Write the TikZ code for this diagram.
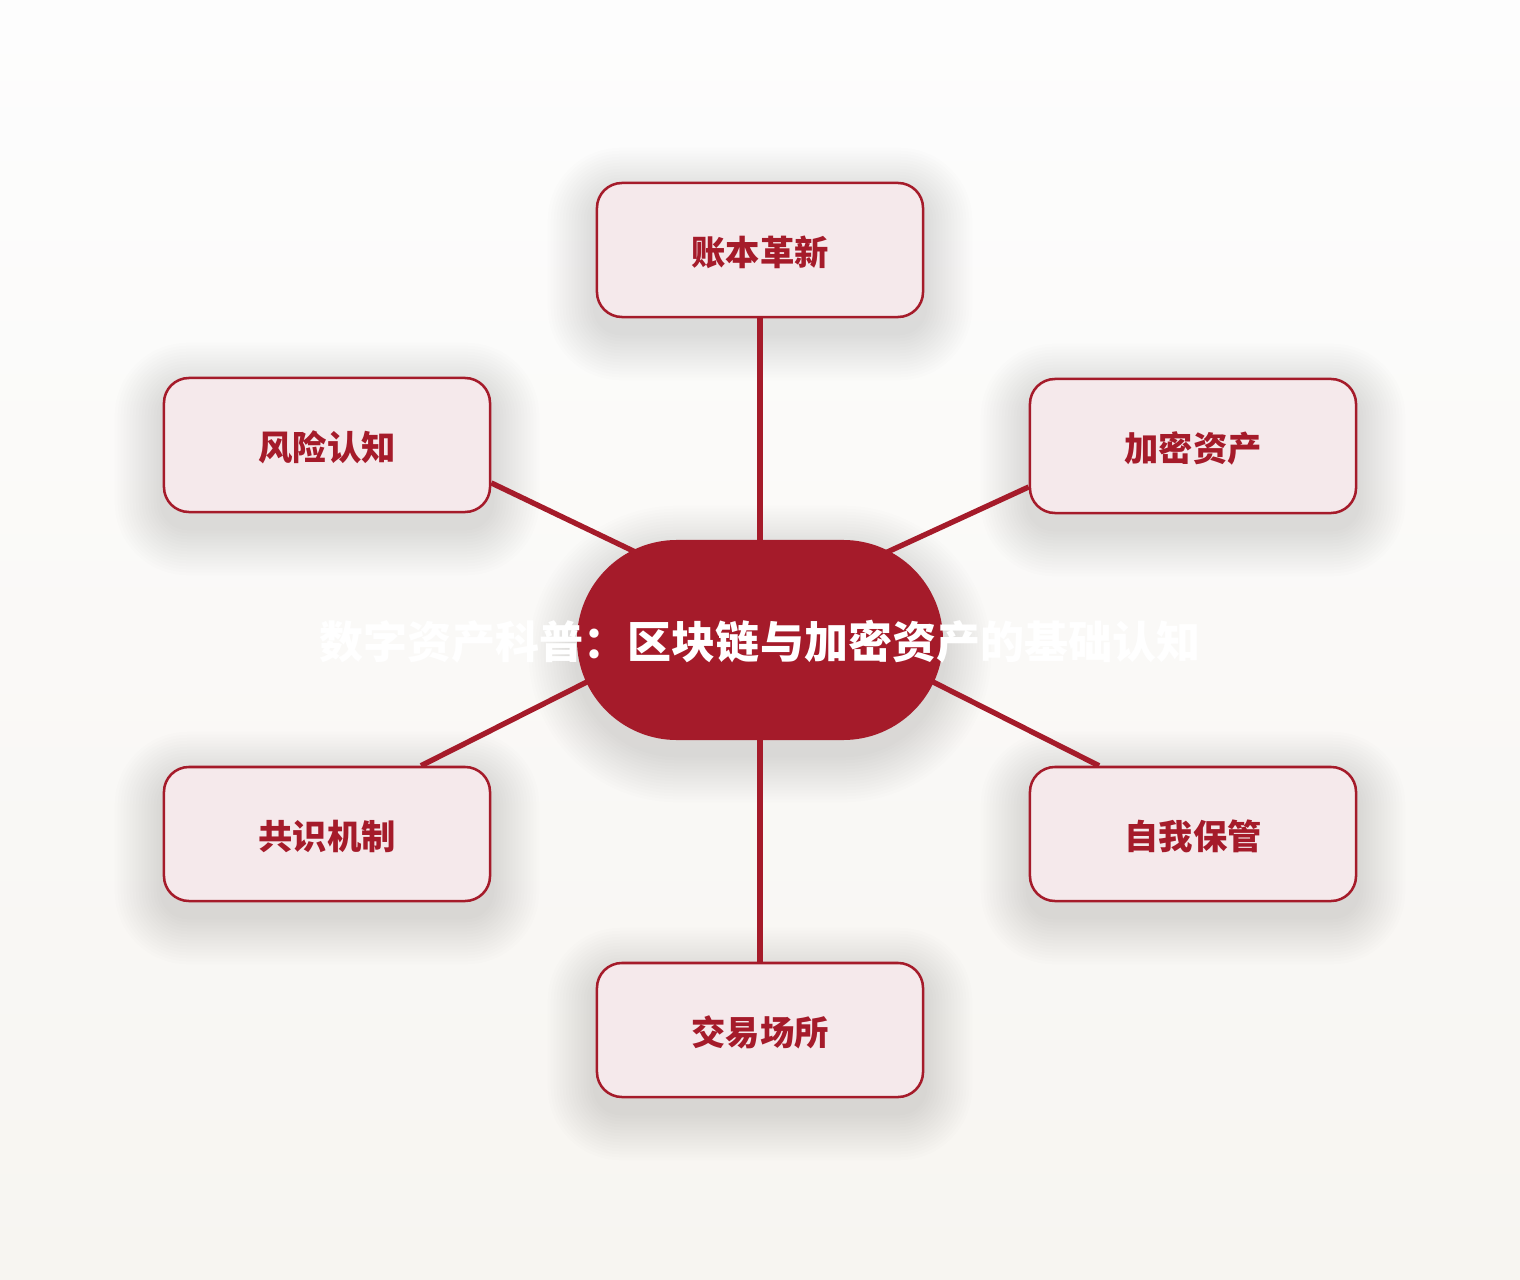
\documentclass[tikz,border=0pt]{standalone}
\usepackage{fontspec}
\setmainfont{Noto Sans CJK SC}
\usetikzlibrary{calc,backgrounds}
\definecolor{cryred}{RGB}{165,27,42}
\definecolor{crypink}{RGB}{245,233,235}
\definecolor{bgtop}{RGB}{253,253,253}
\definecolor{bgbottom}{RGB}{247,245,241}
\newcommand{\topictext}[1]{\raisebox{-2pt}[\height][\depth]{#1}}

\begin{document}
\begin{tikzpicture}[
  x=0.025cm, y=-0.025cm,
  topic/.style={rectangle, rounded corners=0.625cm, draw=cryred, line width=1.8pt, fill=crypink, minimum width=8.15cm, minimum height=3.35cm, inner sep=0pt, text=cryred, font=\fontsize{24.4}{28}\selectfont\bfseries},
  hub/.style={rectangle, rounded corners=2.5cm, fill=cryred, minimum width=9.15cm, minimum height=5cm, inner sep=0pt},
  title/.style={text=white, font=\fontsize{31.3}{36}\selectfont\bfseries},
  link/.style={line width=3.8pt, color=cryred},
  haze/.style={fill=black, opacity=0.0068}
]
\useasboundingbox (0,0) rectangle (1520,1280);

% Central topic
\node[hub] (hub) at (760,640) {};
\node[title] (title) at (760,642) {数字资产科普：区块链与加密资产的基础认知};

% Six branches round the hub
\node[topic] (ledger) at (760,250) {\topictext{账本革新}};
\node[topic] (crypto) at (1193,446) {\topictext{加密资产}};
\node[topic] (custody) at (1193,834) {\topictext{自我保管}};
\node[topic] (venue) at (760,1030) {\topictext{交易场所}};
\node[topic] (consensus) at (327,834) {\topictext{共识机制}};
\node[topic] (risk) at (327,445) {\topictext{风险认知}};

% Background, soft shadows and connectors, behind the nodes
\begin{scope}[on background layer]
\shade[top color=bgtop, bottom color=bgbottom] (0,0) rectangle (1520,1280);
\foreach \n in {ledger,crypto,custody,venue,consensus,risk}
  \foreach \i in {1,...,16}
    \fill[haze, rounded corners={(25+3*\i)*0.025cm}] ($(\n.south west)+(-3*\i,14+3*\i)$) rectangle ($(\n.north east)+(3*\i,14-3*\i)$);
\foreach \i in {1,...,16}
  \fill[haze, rounded corners={(100+3*\i)*0.025cm}] ($(hub.south west)+(-3*\i,14+3*\i)$) rectangle ($(hub.north east)+(3*\i,14-3*\i)$);
\draw[link] (ledger.south) -- (hub.center);
\draw[link] (venue.north) -- (hub.center);
\draw[link] (risk.-13) -- ($(hub.center)+(-60,-57)$);
\draw[link] (crypto.194) -- ($(hub.center)+(60,-57)$);
\draw[link] (consensus.36) -- ($(hub.center)+(-80,-5)$);
\draw[link] (custody.144) -- ($(hub.center)+(80,-5)$);
\end{scope}

\end{tikzpicture}
\end{document}
